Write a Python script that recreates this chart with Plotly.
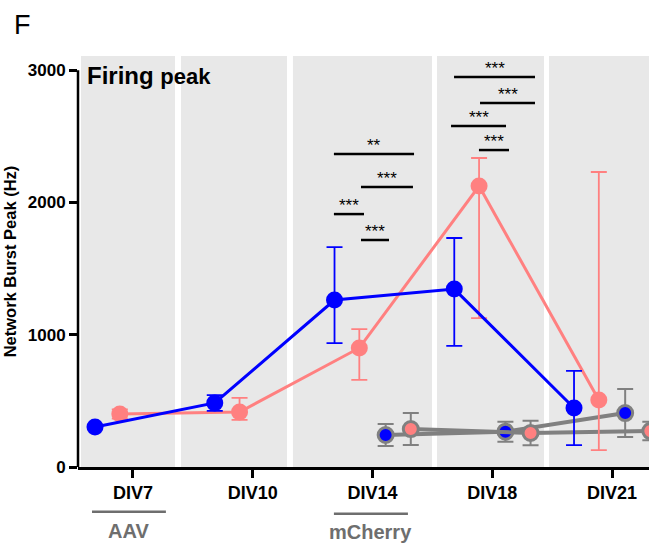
import plotly.graph_objects as go

# ---- data ----
categories = ["DIV7", "DIV10", "DIV14", "DIV18", "DIV21"]
cat_idx = [0, 1, 2, 3, 4]

blue_vals = [302, 484, 1262, 1345, 446]
blue_err_up = [0, 60, 400, 386, 280]
blue_err_dn = [0, 60, 325, 430, 280]

pink_vals = [400, 416, 900, 2124, 506]
pink_err_up = [35, 106, 143, 212, 1724]
pink_err_dn = [35, 60, 242, 998, 378]

ctrl_idx = [2, 3, 4]
ctrl_blue_vals = [242, 267, 408]
ctrl_blue_err = [83, 76, 182]
ctrl_pink_vals = [287, 257, 272]
ctrl_pink_err = [121, 93, 70]

yticks = [0, 1000, 2000, 3000]

# significance bars
sig_x0 = [1.678, 1.904, 1.678, 1.904, 2.681, 2.898, 2.656, 2.889]
sig_x1 = [2.347, 2.338, 1.929, 2.138, 3.357, 3.357, 3.115, 3.140]
sig_y = [2366, 2116, 1912, 1716, 2948, 2751, 2577, 2396]
sig_lab = ["**", "***", "***", "***", "***", "***", "***", "***"]

# shaded bands
band_x0 = [-0.434, 0.401, 1.336, 2.539, 3.474]
band_x1 = [0.351, 1.286, 2.497, 3.432, 4.40]

BLUE = "#0000ff"
PINK = "#ff8080"
GRAY = "#808080"
FONT = "Arial, Liberation Sans, sans-serif"

off_b, off_p, off_cb, off_cp = -0.317, -0.11, 0.11, 0.32

fig = go.Figure()

# control (gray) series
fig.add_trace(go.Scatter(
    x=[i + off_cb for i in ctrl_idx], y=ctrl_blue_vals, mode="lines+markers",
    line=dict(color=GRAY, width=4),
    marker=dict(size=15, color=BLUE, line=dict(color=GRAY, width=3)),
    error_y=dict(type="data", array=ctrl_blue_err, color=GRAY, thickness=2, width=8),
    showlegend=False))
fig.add_trace(go.Scatter(
    x=[i + off_cp for i in ctrl_idx], y=ctrl_pink_vals, mode="lines+markers",
    line=dict(color=GRAY, width=4),
    marker=dict(size=15, color=PINK, line=dict(color=GRAY, width=3)),
    error_y=dict(type="data", array=ctrl_pink_err, color=GRAY, thickness=2, width=8),
    showlegend=False))

# main series
fig.add_trace(go.Scatter(
    x=[i + off_p for i in cat_idx], y=pink_vals, mode="lines+markers",
    line=dict(color=PINK, width=3),
    marker=dict(size=17, color=PINK),
    error_y=dict(type="data", symmetric=False, array=pink_err_up, arrayminus=pink_err_dn,
                 color=PINK, thickness=1.8, width=8),
    showlegend=False))
fig.add_trace(go.Scatter(
    x=[i + off_b for i in cat_idx], y=blue_vals, mode="lines+markers",
    line=dict(color=BLUE, width=3),
    marker=dict(size=17, color=BLUE),
    error_y=dict(type="data", symmetric=False, array=blue_err_up, arrayminus=blue_err_dn,
                 color=BLUE, thickness=1.8, width=8),
    showlegend=False))

shapes = []
for a, b in zip(band_x0, band_x1):
    shapes.append(dict(type="rect", xref="x", yref="paper", x0=a, x1=b, y0=0, y1=1,
                       fillcolor="#e8e8e8", line=dict(width=0), layer="below"))
# y axis line up to 3000
shapes.append(dict(type="line", xref="paper", yref="y", x0=0, x1=0, y0=0, y1=3000,
                   line=dict(color="black", width=2.5)))
# group lines below x axis
shapes.append(dict(type="line", xref="x", yref="paper", x0=-0.342, x1=0.275, y0=-0.109, y1=-0.109,
                   line=dict(color="#6e6e6e", width=2.5)))
shapes.append(dict(type="line", xref="x", yref="paper", x0=1.678, x1=2.296, y0=-0.114, y1=-0.114,
                   line=dict(color="#6e6e6e", width=2.5)))

annotations = []
for a, b, y, lab in zip(sig_x0, sig_x1, sig_y, sig_lab):
    shapes.append(dict(type="line", xref="x", yref="y", x0=a, x1=b, y0=y, y1=y,
                       line=dict(color="black", width=2.5)))
    annotations.append(dict(x=(a + b) / 2, y=y, xref="x", yref="y", text=lab, showarrow=False,
                            yanchor="bottom", yshift=-3,
                            font=dict(family=FONT, size=17, color="black")))

annotations += [
    dict(x=-0.1156, y=1.0, xref="paper", yref="paper", xanchor="left", yanchor="middle",
         text="F", showarrow=False, font=dict(family=FONT, size=27, color="black"),
         yshift=31),
    dict(x=0.012, y=0.99, xref="paper", yref="paper", xanchor="left", yanchor="top",
         text="<b>Firing <span style='font-size:22px'>peak</span></b>", showarrow=False,
         font=dict(family=FONT, size=24, color="black")),
    dict(x=(-0.342 + 0.275) / 2, y=-0.123, xref="x", yref="paper", yanchor="top",
         text="<b>AAV</b>", showarrow=False, font=dict(family=FONT, size=20, color="#6e6e6e")),
    dict(x=(1.678 + 2.296) / 2, y=-0.126, xref="x", yref="paper", yanchor="top",
         text="<b>mCherry</b>", showarrow=False, font=dict(family=FONT, size=20, color="#6e6e6e")),
]

fig.update_layout(
    width=649, height=544,
    margin=dict(l=78, r=0, t=56, b=77),
    paper_bgcolor="white", plot_bgcolor="white",
    font=dict(family=FONT, color="black"),
    shapes=shapes, annotations=annotations,
    xaxis=dict(range=[-0.459, 4.309], tickvals=cat_idx,
               ticktext=["<b>%s</b>" % c for c in categories],
               tickfont=dict(family=FONT, size=18, color="black"),
               ticks="outside", ticklen=8, tickwidth=2.5, tickcolor="black",
               showline=True, linecolor="black", linewidth=2.5,
               showgrid=False, zeroline=False),
    yaxis=dict(range=[0, 3107], tickvals=yticks,
               ticktext=["<b>%d</b>" % v for v in yticks],
               tickfont=dict(family=FONT, size=17, color="black"),
               ticks="outside", ticklen=8, tickwidth=2.5, tickcolor="black",
               showline=False, showgrid=False, zeroline=False,
               title=dict(text="<b>Network Burst Peak (Hz)</b>", standoff=6,
                          font=dict(family=FONT, size=16.5, color="black"))),
)

fig.write_html("out.html")
